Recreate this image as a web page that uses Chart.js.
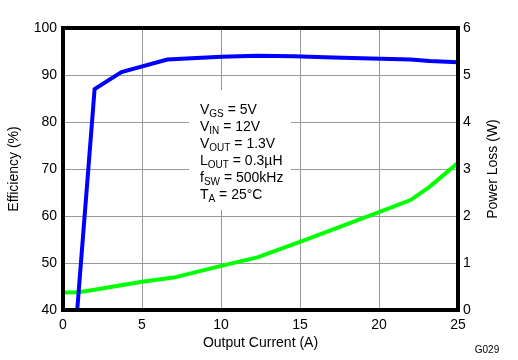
<!DOCTYPE html>
<html>
<head>
<meta charset="utf-8">
<script src="https://cdn.jsdelivr.net/npm/chart.js@4/dist/chart.umd.min.js"></script>
<style>
  html, body { margin: 0; padding: 0; background: #fff; }
  #wrap { width: 518px; height: 360px; }
</style>
</head>
<body>
<div id="wrap"><canvas id="chart" width="518" height="360"></canvas></div>
<script>
// efficiency curve (left axis, %)
var effCurrent = [0.9, 2.0, 3.7, 6.6, 10, 12.3, 14.6, 17.1, 19.5, 22, 23.2, 25];
var effValues  = [40, 87.0, 90.6, 93.3, 93.9, 94.1, 94.0, 93.7, 93.5, 93.3, 93.0, 92.7];

// power loss curve (right axis, W)
var lossCurrent = [0, 1, 2, 5, 7, 10, 12.3, 15, 20, 22, 23.2, 25];
var lossValues  = [0.37, 0.38, 0.43, 0.6, 0.69, 0.94, 1.12, 1.45, 2.08, 2.34, 2.62, 3.13];

var xTicks = [0, 5, 10, 15, 20, 25];
var effTicks = [40, 50, 60, 70, 80, 90, 100];
var lossTicks = [0, 1, 2, 3, 4, 5, 6];

// test conditions box: [main, subscript, rest]
var conditions = [
    ['V', 'GS', ' = 5V'],
    ['V', 'IN', ' = 12V'],
    ['V', 'OUT', ' = 1.3V'],
    ['L', 'OUT', ' = 0.3\u00b5H'],
    ['f', 'SW', ' = 500kHz'],
    ['T', 'A', ' = 25\u00b0C']
];

var FONT = '"Liberation Sans", Arial, sans-serif';

function toPoints(xs, ys) {
    return xs.map(function (x, i) { return { x: x, y: ys[i] }; });
}

var extras = {
    id: 'extras',
    beforeDatasetsDraw: function (chart) {
        var ctx = chart.ctx;
        ctx.save();
        ctx.fillStyle = '#ffffff';
        ctx.fillRect(189, 90, 102, 120);
        ctx.restore();
    },
    afterDatasetsDraw: function (chart) {
        var ctx = chart.ctx;
        var a = chart.chartArea;
        ctx.save();
        // plot frame
        ctx.strokeStyle = '#000';
        ctx.lineWidth = 4;
        ctx.strokeRect(a.left, a.top, a.right - a.left, a.bottom - a.top);

        // conditions text
        ctx.fillStyle = '#000';
        ctx.textBaseline = 'alphabetic';
        ctx.textAlign = 'left';
        conditions.forEach(function (c, i) {
            var x = 200, y = 114 + i * 17;
            ctx.font = '14px ' + FONT;
            ctx.fillText(c[0], x, y);
            x += ctx.measureText(c[0]).width;
            ctx.font = '10px ' + FONT;
            ctx.fillText(c[1], x, y + 3);
            x += ctx.measureText(c[1]).width;
            ctx.font = '14px ' + FONT;
            ctx.fillText(c[2], x, y);
        });

        // axis titles
        ctx.font = '14px ' + FONT;
        ctx.textAlign = 'center';
        ctx.textBaseline = 'middle';
        ctx.fillText('Output Current (A)', (a.left + a.right) / 2, 343);

        ctx.save();
        ctx.translate(14, (a.top + a.bottom) / 2);
        ctx.rotate(-Math.PI / 2);
        ctx.fillText('Efficiency (%)', 0, 0);
        ctx.restore();

        ctx.save();
        ctx.translate(493, (a.top + a.bottom) / 2);
        ctx.rotate(-Math.PI / 2);
        ctx.fillText('Power Loss (W)', 0, 0);
        ctx.restore();

        ctx.font = '10px ' + FONT;
        ctx.fillText('G029', 487, 350);
        ctx.restore();
    }
};

var ctx = document.getElementById('chart').getContext('2d');
var chart = new Chart(ctx, {
    type: 'line',
    data: {
        datasets: [
            {
                label: 'Efficiency',
                data: toPoints(effCurrent, effValues),
                yAxisID: 'y',
                borderColor: '#0000ff',
                borderWidth: 4,
                pointRadius: 0,
                tension: 0,
                fill: false
            },
            {
                label: 'Power Loss',
                data: toPoints(lossCurrent, lossValues),
                yAxisID: 'y2',
                borderColor: '#00ff00',
                borderWidth: 4,
                pointRadius: 0,
                tension: 0,
                fill: false
            }
        ]
    },
    options: {
        responsive: false,
        animation: false,
        layout: { padding: { top: 28, left: 0, right: 0, bottom: 0 } },
        plugins: {
            legend: { display: false },
            tooltip: { enabled: false }
        },
        scales: {
            x: {
                type: 'linear',
                min: 0,
                max: 25,
                afterFit: function (s) { s.height = 50; },
                afterBuildTicks: function (s) { s.ticks = xTicks.map(function (v) { return { value: v }; }); },
                grid: { color: '#999', lineWidth: 1, drawTicks: false },
                border: { display: false },
                ticks: { color: '#000', padding: 7, font: { family: FONT, size: 14 }, maxRotation: 0 }
            },
            y: {
                position: 'left',
                min: 40,
                max: 100,
                afterFit: function (s) { s.width = 63; },
                afterBuildTicks: function (s) { s.ticks = effTicks.map(function (v) { return { value: v }; }); },
                grid: { color: '#999', lineWidth: 1, drawTicks: false },
                border: { display: false },
                ticks: { color: '#000', padding: 6, font: { family: FONT, size: 14 } }
            },
            y2: {
                position: 'right',
                min: 0,
                max: 6,
                afterFit: function (s) { s.width = 60; },
                afterBuildTicks: function (s) { s.ticks = lossTicks.map(function (v) { return { value: v }; }); },
                grid: { display: false, drawTicks: false },
                border: { display: false },
                ticks: { color: '#000', padding: 5, font: { family: FONT, size: 14 } }
            }
        }
    },
    plugins: [extras]
});
</script>
</body>
</html>
